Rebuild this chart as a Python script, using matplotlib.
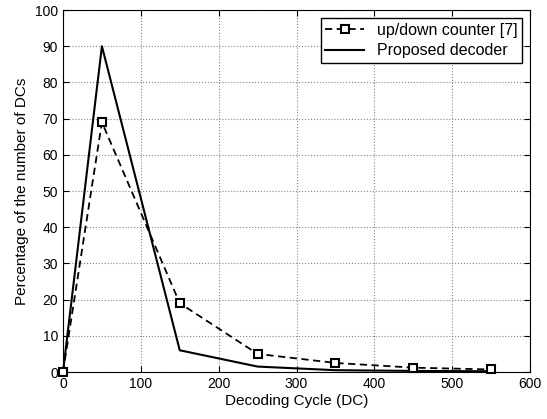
import matplotlib
matplotlib.use("Agg")
import matplotlib.pyplot as plt

plt.rcParams['font.family'] = ['Liberation Sans', 'DejaVu Sans']

cycles = [0, 50, 150, 250, 350, 450, 550]
updown = [0, 69, 19, 5, 2.5, 1.2, 0.7]
proposed = [0, 90, 6, 1.5, 0.5, 0.3, 0.2]

fig = plt.figure(figsize=(5.47, 4.19), dpi=100)
ax = fig.add_axes([63/547, 1-372/419, (530-63)/547, (372-10)/419])

ax.plot(cycles, updown, 'k--s', lw=1.3, ms=6, mfc='white', mew=1.5,
        dashes=(4, 2.5), label='up/down counter [7]', clip_on=False, zorder=3)
ax.plot(cycles, proposed, 'k-', lw=1.5, label='Proposed decoder', clip_on=False)

ax.set_xlim(0, 600)
ax.set_ylim(0, 100)
ax.set_xticks(range(0, 601, 100))
ax.set_yticks(range(0, 101, 10))
ax.grid(True, ls=':', color='#888888', lw=0.8)
ax.tick_params(direction='in', top=True, right=True, labelsize=10, length=4)
ax.set_xlabel('Decoding Cycle (DC)', fontsize=11, labelpad=2)
ax.set_ylabel('Percentage of the number of DCs', fontsize=11)

leg = ax.legend(loc='upper right', fontsize=11.5, fancybox=False, framealpha=1,
                edgecolor='black', borderaxespad=0.5, handlelength=2.4,
                borderpad=0.3, labelspacing=0.35)
leg.get_frame().set_linewidth(1.0)

fig.savefig('out.png', dpi=100)
